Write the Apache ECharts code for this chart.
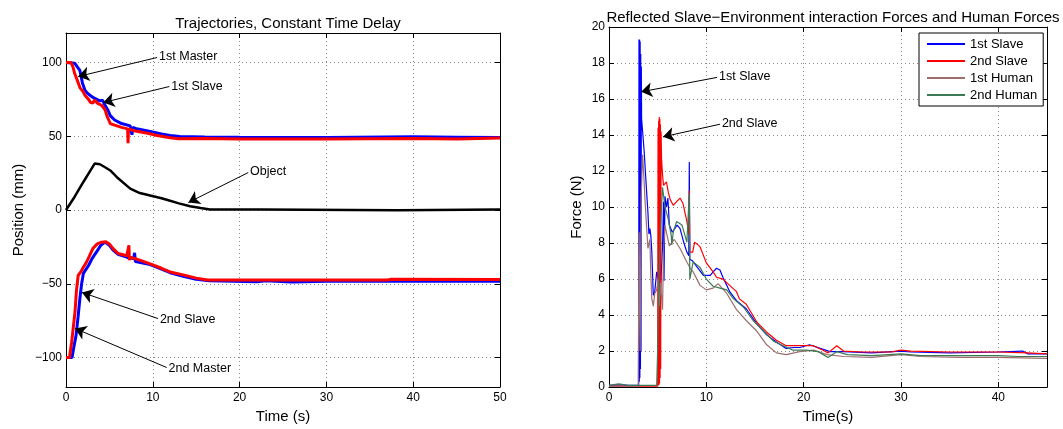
<!DOCTYPE html>
<html>
<head>
<meta charset="utf-8">
<script src="https://cdn.jsdelivr.net/npm/echarts@6/dist/echarts.min.js"></script>
<style>
  html, body { margin: 0; padding: 0; background: #fff; }
  #chart { width: 1063px; height: 429px; }
</style>
</head>
<body>
<div id="chart"></div>
<script>
// left panel: positions (mm) over time (s)
var master1 = [[0,100],[0.6,100],[0.8,97],[1.0,92.5],[1.3,88],[1.6,83],[2.0,80],[2.2,77.6],[2.6,75],[2.8,73],[3.1,72.5],[3.3,74.5],[3.6,72.5],[4.1,71],[4.5,68],[4.7,64],[5.0,60],[5.1,58.6],[5.6,57.5],[6.4,56],[7.1,55],[7.15,45.3],[7.2,55],[8.0,53.5],[9.4,52],[10.5,50.5],[12.0,49],[13,48.3],[16,48.5],[20,48.2],[30,48.2],[40,48.5],[45,48.2],[50,48.8]]
var slave1 = [[0,100],[1.0,99.5],[1.3,97],[1.6,94.6],[1.9,86],[2.2,81],[2.5,79],[2.8,77.6],[3.2,76],[3.9,74],[4.2,74.5],[4.5,71],[4.8,68],[5.1,64],[5.6,61],[6.4,58.6],[7.4,57],[7.6,51],[7.7,56],[8.0,55.3],[9.7,53.2],[11,51.5],[12,50.5],[13.1,49.8],[16,49.5],[20,49.3],[30,49.2],[40,49.6],[45,49.4],[50,49.2]]
var objectPos = [[0,0],[1,9],[2,19],[3,28.5],[3.3,31.5],[3.9,31],[4.5,29],[5.1,26.8],[6,21.5],[7.4,14.5],[8.5,11.5],[9.7,9.8],[11,8],[11.9,6.4],[13,4.5],[14.3,2.6],[15.5,1.3],[16.6,0.4],[22.4,0.3],[22.5,-0.2],[38.2,-0.2],[38.3,0.3],[50,0.3]]
var master2 = [[0,-100],[0.4,-100],[0.65,-89.6],[1.04,-69],[1.2,-55],[1.4,-44.4],[1.7,-42],[2.0,-38.8],[2.3,-36],[2.56,-33],[3.1,-26],[3.6,-23],[4.1,-21.8],[4.6,-21.5],[5.0,-23],[5.4,-26],[6.0,-29.5],[7.0,-31],[7.2,-32],[7.25,-24],[7.3,-34],[7.4,-32],[8.5,-34],[9.7,-36.5],[11,-39.5],[12,-42],[13.5,-44],[15,-46.2],[16.3,-47.5],[22,-47.5],[30,-47.5],[37,-47.5],[37.5,-47],[50,-47.2]]
var slave2 = [[0,-100],[0.7,-100],[0.9,-93],[1.16,-85],[1.4,-72],[1.6,-60],[1.8,-50],[2.0,-43],[2.6,-37.6],[3.0,-33],[3.5,-28.6],[4.0,-24],[4.5,-21.8],[5.0,-24],[5.4,-27],[6.0,-30],[7.0,-32],[7.8,-33],[7.9,-29],[8.0,-35],[9.7,-37],[11,-40],[12,-42.5],[13.5,-45],[15,-47],[16.5,-48],[22,-48.6],[23,-48],[26,-48.8],[30,-48.3],[40,-48.3],[50,-48.3]]
var posTicks = [-100, -50, 0, 50, 100]

// right panel: forces (N) over time (s)
var force1stSlave = [[0,0.1],[1,0.12],[2,0.1],[3.05,0.1],[3.08,19.3],[3.11,0.3],[3.14,19.3],[3.17,0.5],[3.2,19.2],[3.23,1],[3.26,18.5],[3.29,2],[3.32,17.8],[3.35,14.9],[3.5,14.9],[3.6,13.2],[3.7,13.2],[3.87,10.8],[4.0,9.7],[4.1,8.5],[4.2,8.8],[4.3,8.4],[4.4,7.5],[4.55,5.1],[4.7,5.3],[4.9,6.4],[5.0,6.2],[5.1,6.3],[5.3,5.5],[5.5,7.8],[5.6,10.3],[5.65,5.9],[5.75,10.6],[5.9,10.0],[6.05,10.5],[6.2,9.0],[6.5,8.6],[7.0,9.0],[7.3,8.8],[7.7,8.0],[8.0,7.5],[8.2,7.3],[8.25,12.5],[8.3,7.1],[8.6,7.0],[9.0,6.7],[9.7,6.2],[10.4,6.2],[10.7,6.4],[11.05,6.6],[11.4,6.5],[11.7,6.1],[12.1,5.65],[12.4,5.3],[13.1,4.8],[14.1,4.35],[15.2,3.5],[16.2,2.9],[17.2,2.5],[18.2,2.15],[19,2.2],[19.6,2.2],[20.6,2.35],[21.7,2.15],[22.7,1.97],[24.1,1.97],[27,1.9],[30,2.0],[31,1.95],[35,1.9],[40,1.95],[42.5,2.0],[43,1.85],[45,1.85]]
var force2ndSlave = [[0,0.05],[2,0.05],[4,0.05],[5.0,0.05],[5.04,14.4],[5.07,0.1],[5.1,14.8],[5.13,0.1],[5.16,15.0],[5.19,0.2],[5.22,14.9],[5.25,0.5],[5.28,14.6],[5.31,1],[5.35,14.2],[5.4,12.65],[5.5,11.8],[5.6,11.2],[5.75,11.1],[5.9,11.4],[6.1,10.8],[6.3,10.4],[6.6,10.1],[6.95,10.3],[7.3,10.5],[7.6,10.2],[8.0,9.2],[8.2,8.5],[8.25,10.9],[8.3,7.5],[8.6,7.5],[8.8,8.05],[9.35,7.8],[10.0,6.9],[10.7,6.4],[11.05,6.1],[11.7,6.0],[12.1,5.8],[12.7,5.5],[13.1,5.3],[13.4,4.9],[14.1,4.6],[15.2,3.6],[16.2,3.05],[17.2,2.6],[18.2,2.3],[19.6,2.3],[21,2.3],[22,2.05],[22.5,1.9],[23.4,2.3],[24.1,2.0],[26,1.95],[29,1.95],[30,2.05],[31,2.0],[35,1.95],[40,1.95],[43,1.9],[45,1.85]]
var force1stHuman = [[0,0.05],[3.0,0.05],[3.1,8.6],[3.2,2],[3.3,10.5],[3.45,12.9],[3.6,11.5],[3.7,10.4],[3.85,9.0],[4.0,7.7],[4.2,8.2],[4.3,6.2],[4.4,4.9],[4.55,4.5],[4.7,5.2],[4.9,5.4],[5.05,6.0],[5.15,4.5],[5.3,5.8],[5.5,4.3],[5.6,7.5],[5.75,9.0],[5.9,8.6],[6.2,7.85],[6.7,8.2],[7.3,7.7],[8.0,6.95],[8.35,6.6],[8.65,6.4],[9.35,5.65],[10.0,5.4],[10.7,5.5],[11.2,5.75],[12.1,5.2],[13.1,4.3],[14.1,3.7],[15.2,3.1],[16.2,2.35],[17.2,1.9],[18.2,1.8],[19.6,1.97],[21,2.05],[22.4,1.8],[24.1,1.7],[27,1.65],[30,1.8],[32,1.7],[36,1.65],[40,1.65],[45,1.6]]
var force2ndHuman = [[0,0.1],[1,0.18],[2,0.1],[4.9,0.1],[5.0,2.1],[5.1,5],[5.3,9],[5.5,11.1],[5.75,10.0],[6.1,9.3],[6.4,8.4],[6.45,7.9],[6.6,8.6],[6.95,9.2],[7.5,9.0],[8.0,8.05],[8.25,10.75],[8.3,6.0],[8.65,6.95],[9.35,6.65],[10.0,6.0],[10.7,5.6],[11.4,5.5],[12.1,5.4],[12.8,4.9],[13.8,4.45],[14.8,3.7],[15.9,3.1],[16.9,2.55],[17.9,2.3],[18.9,2.05],[20.3,2.05],[21.5,1.97],[22.5,1.65],[23.4,1.97],[24.5,1.8],[27,1.75],[30,1.85],[32,1.75],[40,1.75],[42,1.7],[45,1.7]]
var timeTicksRight = [0, 10, 20, 30, 40]

// annotation arrows, in data coordinates
var leftNotes = [
  { text: '1st Master', from: [10.5, 103.4], to: [1.4, 90.5] },
  { text: '1st Slave', from: [11.9, 83.7], to: [4.3, 72.9] },
  { text: 'Object', from: [21.0, 25.4], to: [14.1, 5.1] },
  { text: '2nd Slave', from: [10.6, -73.6], to: [1.84, -55.9] },
  { text: '2nd Master', from: [11.6, -106.8], to: [1.04, -80.3] }
]
var rightNotes = [
  { text: '1st Slave', from: [11.1, 17.2], to: [3.3, 16.4] },
  { text: '2nd Slave', from: [11.4, 14.6], to: [5.55, 13.9] }
]

var font = '"Liberation Sans", Arial, sans-serif'
var gridLine = { show: true, lineStyle: { color: '#888', type: [1, 3], width: 1 } }
var blackLine = { show: true, onZero: false, lineStyle: { color: '#000', width: 1 } }
var minus = function (v) { return String(v).replace('-', '\u2212') }

function arrows(list) {
  return {
    silent: true,
    animation: false,
    symbol: ['none', 'arrow'],
    symbolSize: 11,
    lineStyle: { color: '#000', width: 1, type: 'solid' },
    label: { show: true, position: 'start', distance: 2, color: '#000', fontSize: 12.5, fontFamily: font,
      formatter: function (p) { return p.name } },
    emphasis: { disabled: true },
    data: list.map(function (a) { return [{ name: a.text, coord: a.from }, { coord: a.to }] })
  }
}

function line(name, data, color, width, xi, yi, extra) {
  var s = {
    name: name, type: 'line', data: data, xAxisIndex: xi, yAxisIndex: yi,
    showSymbol: false, symbol: 'none', animation: false,
    lineStyle: { color: color, width: width }, itemStyle: { color: color },
    emphasis: { disabled: true }
  }
  if (extra) s.markLine = extra
  return s
}

var chart = echarts.init(document.getElementById('chart'))

var option = {
  backgroundColor: '#fff',
  animation: false,
  textStyle: { fontFamily: font },
  title: [
    { text: 'Trajectories, Constant Time Delay', left: 283, top: 11, textAlign: 'center',
      textStyle: { fontSize: 15, fontWeight: 'normal', color: '#000', fontFamily: font } },
    { text: 'Reflected Slave\u2212Environment interaction Forces and Human Forces', left: 828, top: 5, textAlign: 'center',
      textStyle: { fontSize: 15, fontWeight: 'normal', color: '#000', fontFamily: font } }
  ],
  legend: {
    data: ['1st Slave', '2nd Slave', '1st Human', '2nd Human'],
    orient: 'vertical',
    left: 919, top: 33,
    icon: 'rect',
    itemWidth: 38, itemHeight: 2, itemGap: 3,
    padding: [4, 6, 4, 8],
    borderColor: '#000', borderWidth: 1, backgroundColor: '#fff',
    textStyle: { fontSize: 13, color: '#000', fontFamily: font, lineHeight: 14 }
  },
  grid: [
    { left: 66, top: 33, width: 434, height: 354 },
    { left: 609, top: 27, width: 438, height: 362 }
  ],
  xAxis: [
    { gridIndex: 0, type: 'value', min: 0, max: 50, interval: 10, position: 'bottom',
      axisLine: blackLine, axisTick: { inside: true, length: 5, lineStyle: { color: '#000' } },
      axisLabel: { color: '#000', fontSize: 12, margin: 5 }, splitLine: gridLine,
      name: 'Time (s)', nameLocation: 'middle', nameGap: 20,
      nameTextStyle: { fontSize: 15, color: '#000' } },
    { gridIndex: 0, type: 'value', min: 0, max: 50, interval: 10, position: 'top',
      axisLine: blackLine, axisTick: { inside: true, length: 5, lineStyle: { color: '#000' } },
      axisLabel: { show: false }, splitLine: { show: false } },
    { gridIndex: 1, type: 'value', min: 0, max: 45, position: 'bottom',
      axisLine: blackLine, axisTick: { inside: true, length: 5, customValues: timeTicksRight, lineStyle: { color: '#000' } },
      axisLabel: { color: '#000', fontSize: 12, margin: 5, customValues: timeTicksRight }, splitLine: gridLine,
      name: 'Time(s)', nameLocation: 'middle', nameGap: 19,
      nameTextStyle: { fontSize: 15, color: '#000' } },
    { gridIndex: 1, type: 'value', min: 0, max: 45, position: 'top',
      axisLine: blackLine, axisTick: { inside: true, length: 5, customValues: timeTicksRight, lineStyle: { color: '#000' } },
      axisLabel: { show: false }, splitLine: { show: false } }
  ],
  yAxis: [
    { gridIndex: 0, type: 'value', min: -120, max: 120, position: 'left',
      axisLine: blackLine, axisTick: { inside: true, length: 5, customValues: posTicks, lineStyle: { color: '#000' } },
      axisLabel: { color: '#000', fontSize: 12, margin: 4, customValues: posTicks, formatter: minus },
      splitLine: gridLine,
      name: 'Position (mm)', nameLocation: 'middle', nameGap: 40,
      nameTextStyle: { fontSize: 15, color: '#000' } },
    { gridIndex: 0, type: 'value', min: -120, max: 120, position: 'right',
      axisLine: blackLine, axisTick: { inside: true, length: 5, customValues: posTicks, lineStyle: { color: '#000' } },
      axisLabel: { show: false }, splitLine: { show: false } },
    { gridIndex: 1, type: 'value', min: 0, max: 20, interval: 2, position: 'left',
      axisLine: blackLine, axisTick: { inside: true, length: 5, lineStyle: { color: '#000' } },
      axisLabel: { color: '#000', fontSize: 12, margin: 4 }, splitLine: gridLine,
      name: 'Force (N)', nameLocation: 'middle', nameGap: 25,
      nameTextStyle: { fontSize: 15, color: '#000' } },
    { gridIndex: 1, type: 'value', min: 0, max: 20, interval: 2, position: 'right',
      axisLine: blackLine, axisTick: { inside: true, length: 5, lineStyle: { color: '#000' } },
      axisLabel: { show: false }, splitLine: { show: false } }
  ],
  series: [
    line('Slave 1 position', slave1, '#0000ff', 3, 0, 0),
    line('Master 1 position', master1, '#ff0000', 3, 0, 0),
    line('Object position', objectPos, '#000000', 2.5, 0, 0, arrows(leftNotes)),
    line('Slave 2 position', slave2, '#0000ff', 3, 0, 0),
    line('Master 2 position', master2, '#ff0000', 3, 0, 0),
    line('1st Slave', force1stSlave, '#0000ff', 1.2, 2, 2, arrows(rightNotes)),
    line('2nd Slave', force2ndSlave, '#ff0000', 1.2, 2, 2),
    line('1st Human', force1stHuman, '#9c6e6e', 1.2, 2, 2),
    line('2nd Human', force2ndHuman, '#3c7a55', 1.2, 2, 2)
  ]
}

chart.setOption(option)
window.addEventListener('resize', function () { chart.resize() })
</script>
</body>
</html>
